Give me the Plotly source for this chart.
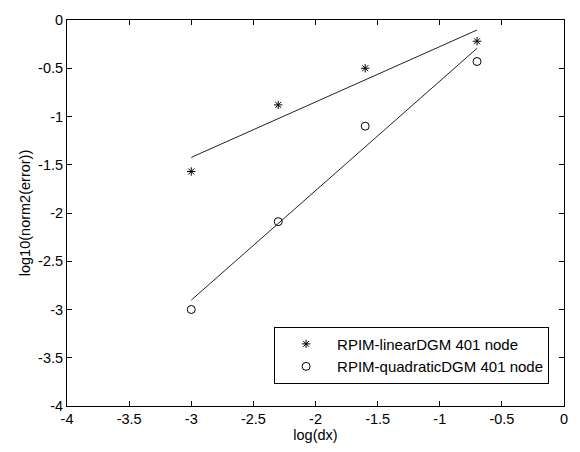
import numpy as np
import plotly.graph_objects as go

log_dx = [-3.0, -2.3, -1.6, -0.7]
linear_err = [-1.57, -0.88, -0.50, -0.22]
quad_err = [-3.00, -2.09, -1.10, -0.43]
x_ticks = [-4, -3.5, -3, -2.5, -2, -1.5, -1, -0.5, 0]
y_ticks = [-4, -3.5, -3, -2.5, -2, -1.5, -1, -0.5, 0]

FONT = "Liberation Sans"
FS = 14.5

fig = go.Figure()

xs = np.array([min(log_dx), max(log_dx)])
for ys in (linear_err, quad_err):
    p = np.polyfit(log_dx, ys, 1)
    fig.add_trace(go.Scatter(x=xs, y=np.polyval(p, xs), mode="lines",
                             line=dict(color="#222", width=1), showlegend=False,
                             hoverinfo="skip"))

fig.add_trace(go.Scatter(x=log_dx, y=linear_err, mode="markers",
                         name="RPIM-linearDGM 401 node",
                         marker=dict(symbol="asterisk-open", size=7, color="black",
                                     line=dict(color="black", width=1))))
fig.add_trace(go.Scatter(x=log_dx, y=quad_err, mode="markers",
                         name="RPIM-quadraticDGM 401 node",
                         marker=dict(symbol="circle-open", size=8, color="black",
                                     line=dict(color="black", width=1))))

axis_common = dict(showgrid=False, zeroline=False, showline=True, linecolor="black",
                   linewidth=1, mirror="ticks", ticks="inside", ticklen=5,
                   tickcolor="black", tickfont=dict(family=FONT, size=FS, color="black"))

fig.update_xaxes(range=[-4, 0], tickvals=x_ticks, ticktext=[f"{v:g}" for v in x_ticks],
                 title=dict(text="log(dx)", font=dict(family=FONT, size=FS, color="black"), standoff=2),
                 **axis_common)
fig.update_yaxes(range=[-4, 0], tickvals=y_ticks, ticktext=[f"{v:g}" for v in y_ticks],
                 title=dict(text="log10(norm2(error))", font=dict(family=FONT, size=FS, color="black"), standoff=4),
                 **axis_common)

fig.update_layout(
    width=580, height=452,
    margin=dict(l=67, r=12, t=16, b=42),
    paper_bgcolor="white", plot_bgcolor="white",
    font=dict(family=FONT, size=FS, color="black"),
    legend=dict(x=0.97, y=0.058, xanchor="right", yanchor="bottom",
                bordercolor="black", borderwidth=1, bgcolor="white",
                font=dict(family=FONT, size=15, color="black"),
                itemwidth=52),
)

fig.write_html("out.html")
